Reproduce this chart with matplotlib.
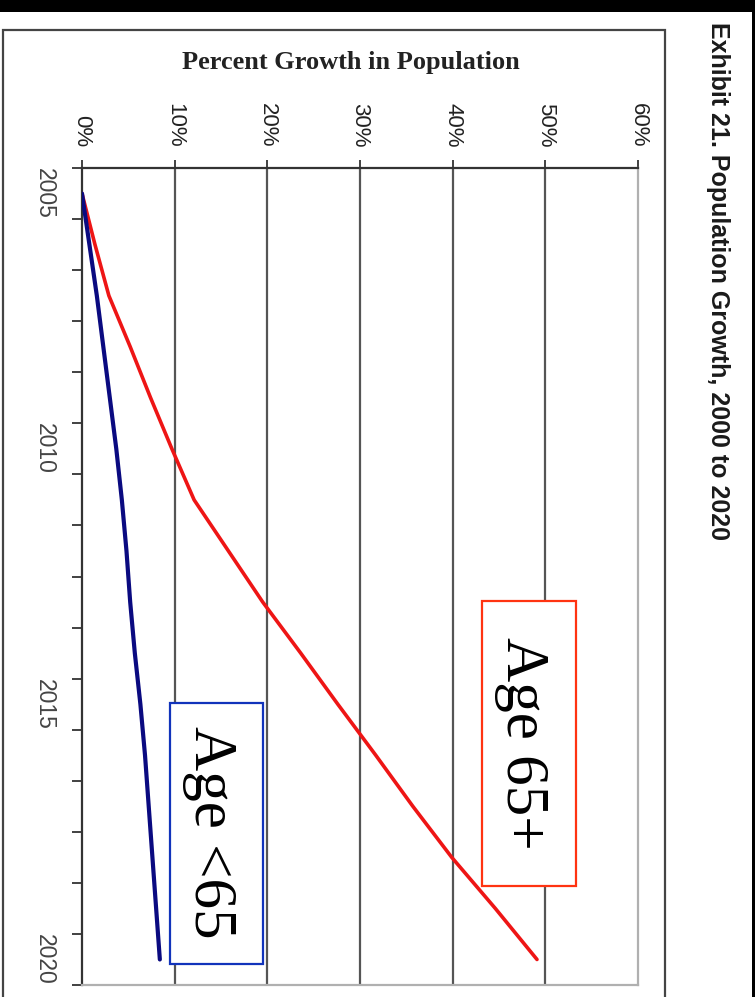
import matplotlib
matplotlib.use("Agg")
import matplotlib.pyplot as plt
from matplotlib.patches import Rectangle

# Dados (crescimento % da população, base 2005)
anos = [2005, 2006, 2007, 2008, 2009, 2010, 2011, 2012,
        2013, 2014, 2015, 2016, 2017, 2018, 2019, 2020]
idade_65_mais = [0.0, 1.4, 2.9, 5.2, 7.4, 9.7, 12.1, 15.8,
                 19.5, 23.6, 27.6, 31.7, 35.7, 39.9, 44.6, 49.1]
idade_menos_65 = [0.0, 0.8, 1.6, 2.3, 3.0, 3.7, 4.3, 4.8,
                  5.2, 5.7, 6.3, 6.8, 7.2, 7.6, 8.0, 8.4]
pct_ticks = [0, 10, 20, 30, 40, 50, 60]
pct_labels = ["0%", "10%", "20%", "30%", "40%", "50%", "60%"]
anos_rotulo = [2005, 2010, 2015, 2020]

W, H = 755, 997


def fx(x):
    return x / W


def fy(y):
    return 1 - y / H


fig = plt.figure(figsize=(W / 100, H / 100), dpi=100)
fig.patch.set_facecolor("white")

# ----- Eixo principal (gráfico girado 90 graus) -----
ax = fig.add_axes([fx(82), fy(985), 556 / W, 817 / H])
ax.set_xlim(0, 60)
ax.set_ylim(anos[-1] + 0.5, anos[0] - 0.5)

ax.plot(idade_65_mais, anos, color="#ee1515", lw=2.6, solid_capstyle="round", zorder=3)
ax.plot(idade_menos_65, anos, color="#0a0a80", lw=3.0, solid_capstyle="round", zorder=3)

ax.xaxis.tick_top()
ax.set_xticks(pct_ticks)
ax.set_xticklabels(pct_labels, rotation=-90, fontsize=16,
                   family="Liberation Sans", color="#222222")
ax.tick_params(axis="x", direction="out", length=6, width=1.3,
               color="#333333", pad=9)

limites = [a - 0.5 for a in anos] + [anos[-1] + 0.5]
ax.set_yticks(anos_rotulo)
ax.set_yticklabels([str(a) for a in anos_rotulo], rotation=-90, va="center",
                   fontsize=16.5, family="Liberation Sans", color="#444444")
ax.set_yticks(limites, minor=True)
ax.tick_params(axis="y", which="major", length=0, pad=19)
ax.tick_params(axis="y", which="minor", direction="out", length=7,
               width=1.3, color="#333333")

ax.grid(axis="x", color="#555555", lw=1.6)
ax.get_xgridlines()[-1].set_visible(False)
ax.get_xgridlines()[0].set_visible(False)

ax.spines["left"].set_color("#333333")
ax.spines["left"].set_linewidth(1.6)
ax.spines["top"].set_color("#333333")
ax.spines["top"].set_linewidth(1.6)
ax.spines["right"].set_color("#b0b0b0")
ax.spines["right"].set_linewidth(1.6)
ax.spines["bottom"].set_color("#b0b0b0")
ax.spines["bottom"].set_linewidth(1.6)

# ----- Títulos -----
fig.text(fx(351), fy(63), "Percent Growth in Population", ha="center", va="center",
         fontsize=19, fontweight="bold", family="Liberation Serif", color="#222222")
fig.text(fx(718), fy(22), "Exhibit 21. Population Growth, 2000 to 2020",
         ha="center", va="top", rotation=-90, fontsize=18, fontweight="bold",
         family="Liberation Sans", color="#1a1a1a")

# ----- Caixas de rótulo -----
fig.add_artist(Rectangle((fx(482), fy(886)), 94 / W, 285 / H, transform=fig.transFigure,
                         facecolor="white", edgecolor="#ff3311", lw=1.6, zorder=2))
fig.text(fx(522), fy(743), "Age 65+", ha="center", va="center", rotation=-90,
         fontsize=44, family="Liberation Serif", color="black", zorder=3)

fig.add_artist(Rectangle((fx(170), fy(964)), 93 / W, 261 / H, transform=fig.transFigure,
                         facecolor="white", edgecolor="#1133bb", lw=1.6, zorder=2))
fig.text(fx(210), fy(832), "Age <65", ha="center", va="center", rotation=-90,
         fontsize=44, family="Liberation Serif", color="black", zorder=3)

# ----- Moldura e bordas pretas -----
fig.add_artist(Rectangle((fx(3), fy(999)), 662 / W, 969 / H, transform=fig.transFigure,
                         facecolor="none", edgecolor="#444444", lw=1.6, zorder=1))
fig.add_artist(Rectangle((0, fy(12)), 1, 12 / H, transform=fig.transFigure,
                         facecolor="black", edgecolor="none", zorder=4))
fig.add_artist(Rectangle((fx(752), 0), 3 / W, 1, transform=fig.transFigure,
                         facecolor="black", edgecolor="none", zorder=4))

fig.savefig("out.png", dpi=100)
plt.close()
